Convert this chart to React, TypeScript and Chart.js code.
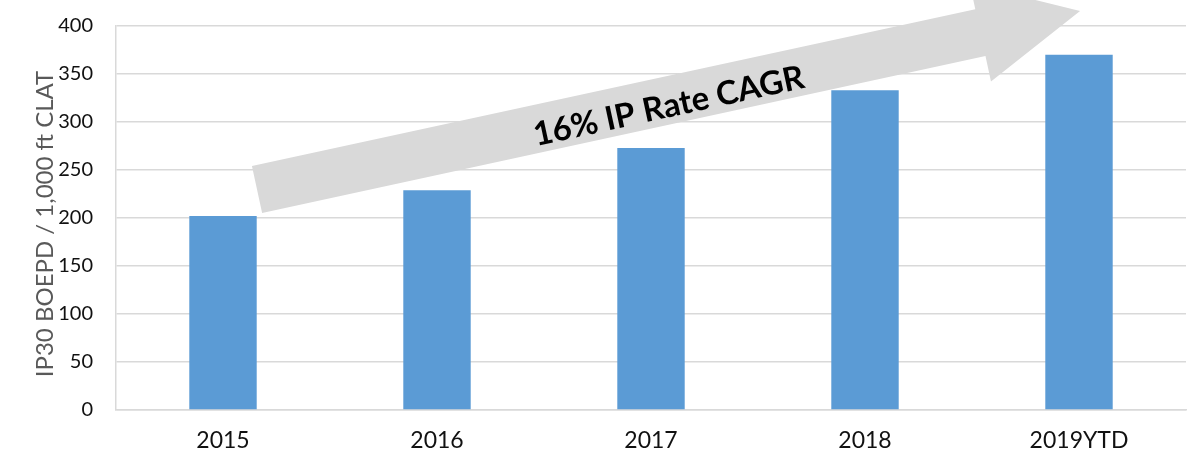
import React, { useEffect, useRef } from "react";
import { Chart, registerables } from "chart.js";

Chart.register(...registerables);

const categories = ["2015", "2016", "2017", "2018", "2019YTD"];
const ipRates = [202, 229, 273, 333, 370];
const yTicks = [0, 50, 100, 150, 200, 250, 300, 350, 400];
const yTitle = "IP30 BOEPD / 1,000 ft CLAT";
const arrowLabel = "16% IP Rate CAGR";
// arrow annotation anchored in data space (category index, value)
const arrowTail = [0.159, 229.7];
const arrowTip = [4.005, 415.6];

const FONT = "Lato, 'Open Sans', 'DejaVu Sans', sans-serif";

const arrowPlugin = {
  id: "cagrArrow",
  afterDatasetsDraw(chart: any) {
    const { ctx, scales } = chart;
    const xs = scales.x;
    const ys = scales.y;
    const px = (i: number) => {
      const a = xs.getPixelForValue(Math.floor(i));
      const b = xs.getPixelForValue(Math.floor(i) + 1);
      return a + (b - a) * (i - Math.floor(i));
    };
    const x0 = px(arrowTail[0]);
    const y0 = ys.getPixelForValue(arrowTail[1]);
    const x1 = px(arrowTip[0]);
    const y1 = ys.getPixelForValue(arrowTip[1]);
    const len = Math.hypot(x1 - x0, y1 - y0);
    const ang = Math.atan2(y1 - y0, x1 - x0);
    const shaftHalf = 24;
    const headHalf = 50;
    const headLen = 102;
    ctx.save();
    ctx.translate(x0, y0);
    ctx.rotate(ang);
    ctx.beginPath();
    ctx.moveTo(0, -shaftHalf);
    ctx.lineTo(len - headLen, -shaftHalf);
    ctx.lineTo(len - headLen, -headHalf);
    ctx.lineTo(len, 0);
    ctx.lineTo(len - headLen, headHalf);
    ctx.lineTo(len - headLen, shaftHalf);
    ctx.lineTo(0, shaftHalf);
    ctx.closePath();
    ctx.fillStyle = "#d9d9d9";
    ctx.fill();
    ctx.font = `bold 33px ${FONT}`;
    ctx.fillStyle = "#000000";
    ctx.textAlign = "center";
    ctx.textBaseline = "middle";
    ctx.fillText(arrowLabel, 420, 6);
    ctx.restore();
  },
};

const yTitlePlugin = {
  id: "yTitle",
  afterDraw(chart: any) {
    const { ctx, chartArea } = chart;
    ctx.save();
    ctx.translate(45, (chartArea.top + chartArea.bottom) / 2 + 6);
    ctx.rotate(-Math.PI / 2);
    ctx.font = `24px ${FONT}`;
    ctx.fillStyle = "#595959";
    ctx.textAlign = "center";
    ctx.textBaseline = "middle";
    ctx.fillText(yTitle, 0, 0);
    ctx.restore();
  },
};

export default function App() {
  const ref = useRef<HTMLCanvasElement | null>(null);
  useEffect(() => {
    document.body.style.margin = "0";
    const chart = new Chart(ref.current as HTMLCanvasElement, {
      type: "bar",
      data: {
        labels: categories,
        datasets: [
          {
            data: ipRates,
            backgroundColor: "#5b9bd5",
            categoryPercentage: 1,
            barPercentage: 0.315,
          },
        ],
      },
      options: {
        animation: false,
        responsive: true,
        maintainAspectRatio: false,
        layout: { padding: { top: 26, right: 7, left: 0, bottom: 0 } },
        plugins: { legend: { display: false }, tooltip: { enabled: false } },
        scales: {
          x: {
            grid: { display: false, drawTicks: false },
            border: { color: "#d9d9d9", width: 1.5 },
            ticks: {
              color: "#111111",
              font: { family: FONT, size: 23 },
              padding: 17,
            },
            afterFit: (s: any) => {
              s.height = 48;
            },
          },
          y: {
            min: 0,
            max: 400,
            afterBuildTicks: (s: any) => {
              s.ticks = yTicks.map((v) => ({ value: v }));
            },
            grid: { color: "#d9d9d9", lineWidth: 1.5, drawTicks: false },
            border: { color: "#d9d9d9", width: 1.5 },
            ticks: {
              color: "#111111",
              font: { family: FONT, size: 20 },
              padding: 23,
            },
            afterFit: (s: any) => {
              s.width = 116;
              s.paddingTop = 0;
              s.paddingBottom = 0;
            },
          },
        },
      },
      plugins: [arrowPlugin, yTitlePlugin],
    });
    return () => chart.destroy();
  }, []);
  return (
    <div style={{ position: "absolute", left: 0, top: 0, width: 1193, height: 458 }}>
      <canvas ref={ref} />
    </div>
  );
}
